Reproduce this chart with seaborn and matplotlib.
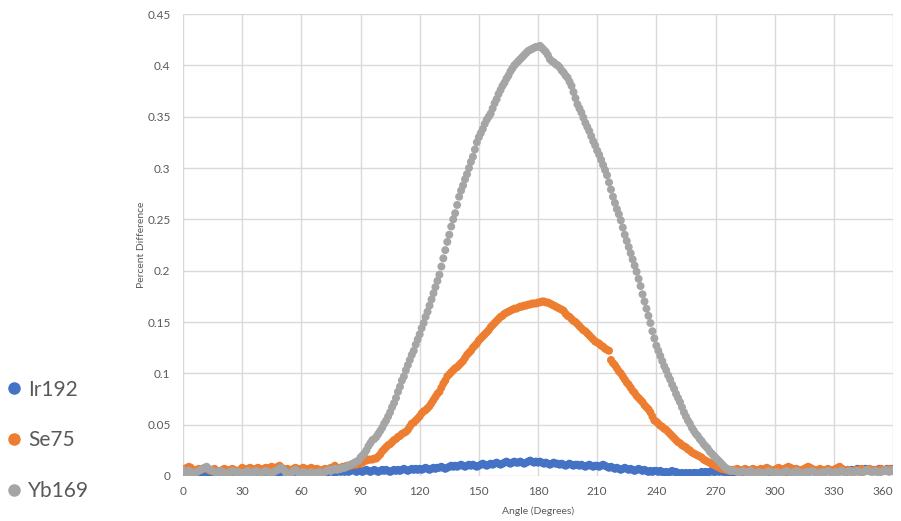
import matplotlib
matplotlib.use("Agg")
import matplotlib.pyplot as plt
from matplotlib.lines import Line2D
import seaborn as sns
import pandas as pd
import numpy as np

angles = list(range(0, 361))

ir192 = [
    0.005, 0.004, 0.003, 0.004, 0.003, 0.004, 0.003, 0.002, 0.003, 0.004,
    0.003, 0.004, 0.003, 0.004, 0.003, 0.002, 0.003, 0.004, 0.003, 0.004,
    0.004, 0.003, 0.004, 0.005, 0.004, 0.003, 0.004, 0.003, 0.002, 0.003,
    0.004, 0.003, 0.004, 0.005, 0.004, 0.003, 0.004, 0.003, 0.004, 0.005,
    0.004, 0.003, 0.002, 0.003, 0.004, 0.003, 0.004, 0.003, 0.004, 0.003,
    0.004, 0.005, 0.004, 0.003, 0.004, 0.003, 0.002, 0.003, 0.004, 0.003,
    0.004, 0.003, 0.004, 0.005, 0.004, 0.003, 0.004, 0.003, 0.004, 0.003,
    0.004, 0.003, 0.004, 0.003, 0.004, 0.005, 0.004, 0.003, 0.004, 0.005,
    0.004, 0.005, 0.004, 0.005, 0.004, 0.005, 0.006, 0.005, 0.004, 0.005,
    0.005, 0.004, 0.005, 0.006, 0.005, 0.004, 0.005, 0.006, 0.005, 0.004,
    0.005, 0.006, 0.005, 0.006, 0.005, 0.004, 0.005, 0.006, 0.005, 0.006,
    0.005, 0.006, 0.007, 0.006, 0.005, 0.006, 0.007, 0.006, 0.007, 0.006,
    0.007, 0.006, 0.007, 0.008, 0.007, 0.006, 0.007, 0.008, 0.007, 0.008,
    0.008, 0.009, 0.008, 0.007, 0.008, 0.009, 0.010, 0.009, 0.010, 0.009,
    0.010, 0.011, 0.010, 0.009, 0.010, 0.011, 0.010, 0.011, 0.010, 0.009,
    0.010, 0.011, 0.012, 0.011, 0.010, 0.011, 0.012, 0.011, 0.012, 0.013,
    0.012, 0.011, 0.012, 0.013, 0.014, 0.013, 0.012, 0.013, 0.014, 0.013,
    0.013, 0.014, 0.013, 0.012, 0.013, 0.014, 0.015, 0.014, 0.013, 0.014,
    0.013, 0.014, 0.013, 0.012, 0.013, 0.012, 0.011, 0.012, 0.013, 0.012,
    0.012, 0.011, 0.012, 0.011, 0.010, 0.011, 0.012, 0.011, 0.010, 0.011,
    0.011, 0.010, 0.011, 0.010, 0.009, 0.010, 0.011, 0.010, 0.009, 0.010,
    0.010, 0.009, 0.010, 0.011, 0.010, 0.009, 0.008, 0.009, 0.008, 0.007,
    0.008, 0.007, 0.006, 0.007, 0.008, 0.007, 0.006, 0.007, 0.006, 0.005,
    0.006, 0.007, 0.006, 0.005, 0.006, 0.005, 0.004, 0.005, 0.004, 0.005,
    0.005, 0.004, 0.005, 0.004, 0.003, 0.004, 0.003, 0.004, 0.005, 0.004,
    0.004, 0.003, 0.002, 0.003, 0.002, 0.003, 0.002, 0.003, 0.002, 0.003,
    0.003, 0.002, 0.003, 0.004, 0.003, 0.004, 0.003, 0.004, 0.005, 0.004,
    0.004, 0.005, 0.004, 0.005, 0.004, 0.003, 0.004, 0.003, 0.004, 0.003,
    0.004, 0.003, 0.004, 0.005, 0.004, 0.003, 0.004, 0.005, 0.004, 0.003,
    0.003, 0.004, 0.003, 0.004, 0.005, 0.004, 0.003, 0.004, 0.003, 0.004,
    0.004, 0.003, 0.004, 0.005, 0.004, 0.005, 0.004, 0.003, 0.004, 0.005,
    0.004, 0.005, 0.004, 0.003, 0.004, 0.005, 0.004, 0.005, 0.006, 0.005,
    0.005, 0.004, 0.005, 0.006, 0.005, 0.004, 0.005, 0.006, 0.005, 0.004,
    0.005, 0.006, 0.005, 0.006, 0.007, 0.006, 0.005, 0.006, 0.005, 0.006,
    0.005, 0.006, 0.007, 0.006, 0.005, 0.006, 0.007, 0.006, 0.005, 0.006,
    0.006, 0.005, 0.006, 0.007, 0.006, 0.005, 0.006, 0.007, 0.006, 0.007,
    0.006,
]

se75 = [
    0.006, 0.007, 0.008, 0.009, 0.008, 0.006, 0.005, 0.006, 0.007, 0.006,
    0.007, 0.008, 0.007, 0.006, 0.005, 0.006, 0.007, 0.005, 0.003, 0.005,
    0.006, 0.007, 0.006, 0.005, 0.006, 0.007, 0.006, 0.005, 0.004, 0.006,
    0.008, 0.007, 0.006, 0.007, 0.008, 0.007, 0.006, 0.007, 0.008, 0.007,
    0.006, 0.007, 0.008, 0.007, 0.008, 0.009, 0.008, 0.007, 0.009, 0.010,
    0.008, 0.007, 0.006, 0.007, 0.006, 0.005, 0.007, 0.008, 0.007, 0.006,
    0.007, 0.008, 0.007, 0.006, 0.007, 0.008, 0.007, 0.006, 0.007, 0.006,
    0.005, 0.006, 0.007, 0.006, 0.007, 0.008, 0.007, 0.010, 0.008, 0.007,
    0.008, 0.009, 0.009, 0.010, 0.010, 0.010, 0.011, 0.011, 0.011, 0.012,
    0.012, 0.013, 0.015, 0.015, 0.016, 0.016, 0.016, 0.017, 0.017, 0.019,
    0.021, 0.024, 0.026, 0.028, 0.030, 0.031, 0.033, 0.035, 0.036, 0.038,
    0.039, 0.041, 0.042, 0.043, 0.045, 0.048, 0.051, 0.052, 0.054, 0.056,
    0.058, 0.061, 0.063, 0.064, 0.066, 0.068, 0.071, 0.074, 0.077, 0.080,
    0.082, 0.086, 0.090, 0.093, 0.097, 0.099, 0.101, 0.103, 0.105, 0.106,
    0.108, 0.110, 0.112, 0.115, 0.118, 0.120, 0.122, 0.125, 0.127, 0.129,
    0.132, 0.134, 0.136, 0.138, 0.140, 0.142, 0.145, 0.147, 0.149, 0.151,
    0.153, 0.155, 0.156, 0.158, 0.159, 0.160, 0.161, 0.162, 0.163, 0.163,
    0.164, 0.165, 0.165, 0.166, 0.166, 0.167, 0.167, 0.168, 0.168, 0.168,
    0.169, 0.169, 0.170, 0.170, 0.169, 0.169, 0.168, 0.167, 0.166, 0.165,
    0.164, 0.163, 0.162, 0.161, 0.158, 0.156, 0.155, 0.153, 0.151, 0.150,
    0.148, 0.146, 0.144, 0.142, 0.141, 0.139, 0.137, 0.135, 0.133, 0.131,
    0.130, 0.129, 0.127, 0.126, 0.124, 0.123, 0.122, 0.113, 0.110, 0.108,
    0.105, 0.102, 0.100, 0.097, 0.094, 0.091, 0.089, 0.086, 0.083, 0.081,
    0.078, 0.076, 0.074, 0.072, 0.069, 0.067, 0.065, 0.062, 0.058, 0.054,
    0.053, 0.051, 0.049, 0.048, 0.046, 0.045, 0.043, 0.041, 0.039, 0.037,
    0.035, 0.033, 0.032, 0.030, 0.029, 0.028, 0.026, 0.025, 0.023, 0.022,
    0.021, 0.020, 0.019, 0.018, 0.016, 0.015, 0.014, 0.013, 0.012, 0.011,
    0.010, 0.009, 0.008, 0.007, 0.007, 0.006, 0.006, 0.005, 0.006, 0.006,
    0.006, 0.007, 0.006, 0.005, 0.006, 0.007, 0.006, 0.005, 0.006, 0.007,
    0.006, 0.005, 0.006, 0.007, 0.006, 0.007, 0.008, 0.007, 0.006, 0.005,
    0.006, 0.007, 0.008, 0.007, 0.006, 0.007, 0.008, 0.009, 0.008, 0.007,
    0.006, 0.007, 0.006, 0.005, 0.006, 0.007, 0.008, 0.009, 0.008, 0.007,
    0.006, 0.005, 0.006, 0.007, 0.006, 0.005, 0.006, 0.007, 0.006, 0.005,
    0.006, 0.007, 0.008, 0.009, 0.007, 0.006, 0.005, 0.006, 0.005, 0.004,
    0.005, 0.006, 0.005, 0.006, 0.007, 0.006, 0.005, 0.006, 0.007, 0.006,
    0.005, 0.006, 0.005, 0.006, 0.007, 0.006, 0.005, 0.006, 0.007, 0.006,
    0.005,
]

yb169 = [
    0.006, 0.004, 0.003, 0.005, 0.004, 0.002, 0.003, 0.004, 0.005, 0.006,
    0.007, 0.008, 0.009, 0.007, 0.006, 0.005, 0.004, 0.003, 0.004, 0.005,
    0.004, 0.003, 0.002, 0.003, 0.004, 0.005, 0.004, 0.003, 0.004, 0.003,
    0.002, 0.003, 0.004, 0.005, 0.003, 0.002, 0.004, 0.005, 0.004, 0.003,
    0.003, 0.004, 0.005, 0.004, 0.003, 0.002, 0.004, 0.005, 0.006, 0.007,
    0.008, 0.006, 0.004, 0.002, 0.001, 0.003, 0.005, 0.006, 0.004, 0.003,
    0.003, 0.004, 0.003, 0.002, 0.003, 0.004, 0.003, 0.002, 0.003, 0.004,
    0.002, 0.003, 0.004, 0.005, 0.006, 0.005, 0.006, 0.007, 0.006, 0.007,
    0.007, 0.008, 0.008, 0.009, 0.010, 0.011, 0.012, 0.013, 0.014, 0.015,
    0.018, 0.020, 0.022, 0.025, 0.029, 0.032, 0.035, 0.036, 0.038, 0.041,
    0.044, 0.047, 0.051, 0.054, 0.058, 0.062, 0.067, 0.071, 0.076, 0.082,
    0.087, 0.093, 0.097, 0.103, 0.108, 0.113, 0.118, 0.122, 0.128, 0.133,
    0.138, 0.144, 0.149, 0.155, 0.160, 0.166, 0.172, 0.178, 0.184, 0.190,
    0.196, 0.204, 0.212, 0.220, 0.228, 0.235, 0.243, 0.250, 0.256, 0.264,
    0.272, 0.278, 0.283, 0.289, 0.294, 0.300, 0.306, 0.311, 0.318, 0.325,
    0.330, 0.334, 0.338, 0.343, 0.347, 0.350, 0.353, 0.358, 0.363, 0.367,
    0.372, 0.376, 0.380, 0.383, 0.387, 0.390, 0.394, 0.397, 0.400, 0.402,
    0.404, 0.406, 0.408, 0.410, 0.412, 0.414, 0.415, 0.416, 0.417, 0.418,
    0.418, 0.419, 0.417, 0.415, 0.413, 0.410, 0.406, 0.404, 0.403, 0.401,
    0.400, 0.398, 0.395, 0.393, 0.390, 0.388, 0.384, 0.380, 0.374, 0.368,
    0.362, 0.358, 0.354, 0.349, 0.344, 0.340, 0.336, 0.331, 0.326, 0.322,
    0.317, 0.313, 0.308, 0.303, 0.298, 0.293, 0.286, 0.279, 0.272, 0.266,
    0.260, 0.255, 0.249, 0.242, 0.235, 0.229, 0.223, 0.217, 0.211, 0.205,
    0.199, 0.192, 0.185, 0.177, 0.170, 0.163, 0.156, 0.149, 0.141, 0.134,
    0.127, 0.122, 0.117, 0.112, 0.107, 0.103, 0.098, 0.094, 0.089, 0.085,
    0.080, 0.076, 0.072, 0.067, 0.062, 0.058, 0.054, 0.051, 0.047, 0.044,
    0.041, 0.039, 0.036, 0.034, 0.031, 0.029, 0.027, 0.024, 0.022, 0.020,
    0.018, 0.016, 0.014, 0.012, 0.010, 0.008, 0.007, 0.006, 0.005, 0.005,
    0.005, 0.004, 0.003, 0.004, 0.005, 0.004, 0.003, 0.004, 0.005, 0.003,
    0.002, 0.003, 0.004, 0.003, 0.002, 0.003, 0.004, 0.005, 0.004, 0.003,
    0.003, 0.004, 0.003, 0.002, 0.003, 0.004, 0.005, 0.004, 0.003, 0.003,
    0.004, 0.005, 0.004, 0.003, 0.002, 0.003, 0.004, 0.003, 0.004, 0.005,
    0.004, 0.003, 0.002, 0.003, 0.004, 0.003, 0.004, 0.005, 0.004, 0.003,
    0.003, 0.004, 0.003, 0.004, 0.005, 0.004, 0.003, 0.004, 0.005, 0.004,
    0.003, 0.004, 0.005, 0.004, 0.003, 0.004, 0.005, 0.006, 0.005, 0.004,
    0.004, 0.005, 0.004, 0.003, 0.004, 0.005, 0.006, 0.005, 0.004, 0.005,
    0.006,
]

series_names = ["Ir192", "Se75", "Yb169"]
series_colors = ["#4472C4", "#ED7D31", "#A5A5A5"]
x_ticks = [0, 30, 60, 90, 120, 150, 180, 210, 240, 270, 300, 330, 360]
y_ticks = [0, 0.05, 0.1, 0.15, 0.2, 0.25, 0.3, 0.35, 0.4, 0.45]

df = pd.concat([
    pd.DataFrame({"Angle": angles, "Value": vals, "Series": name})
    for name, vals in zip(series_names, [ir192, se75, yb169])
], ignore_index=True)

sns.set_style("white")
plt.rcParams["font.family"] = ["Lato", "DejaVu Sans"]

fig = plt.figure(figsize=(9.01, 5.21), dpi=100)
ax = fig.add_axes([183 / 901, 1 - 476 / 521, (893 - 183) / 901, (476 - 14) / 521])

palette = dict(zip(series_names, series_colors))
sns.scatterplot(data=df, x="Angle", y="Value", hue="Series", palette=palette,
                s=33, linewidth=0, edgecolor="none", legend=False, ax=ax, zorder=3)

ax.set_xlim(0, 360)
ax.set_ylim(0, 0.45)
ax.set_xticks(x_ticks)
ax.set_yticks(y_ticks)
ax.set_yticklabels([f"{v:g}" for v in y_ticks])
ax.grid(True, color="#D9D9D9", linewidth=1)
ax.set_axisbelow(True)
for sp in ax.spines.values():
    sp.set_visible(False)
ax.tick_params(axis="both", length=0, labelsize=8.5, colors="#595959")
ax.tick_params(axis="y", pad=9)
ax.tick_params(axis="x", pad=7.5)
xlabels = ax.get_xticklabels()
xlabels[-1].set_horizontalalignment("right")
ax.set_xlabel("Angle (Degrees)", fontsize=7.5, color="#595959", labelpad=6.5)
ax.set_ylabel("Percent Difference", fontsize=7.5, color="#595959", labelpad=0.5)

handles = [Line2D([], [], marker="o", linestyle="", color=c, markersize=8)
           for c in series_colors]
fig.legend(handles, series_names, loc="upper left",
           bbox_to_anchor=(-0.02, 1 - 361 / 521), frameon=False,
           fontsize=15, labelspacing=1.47, handletextpad=0.0,
           handlelength=1.3, labelcolor="#595959")

fig.savefig("out.png", dpi=100)
